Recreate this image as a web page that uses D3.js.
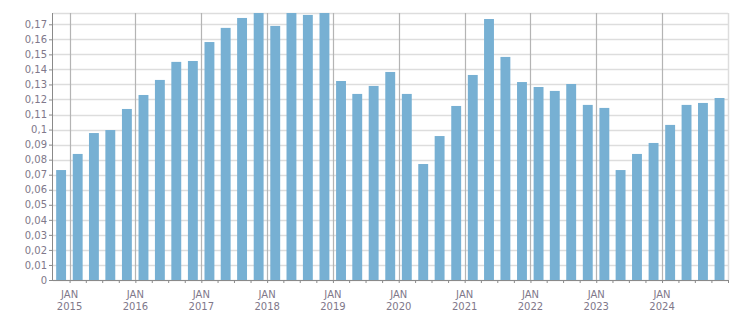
<!DOCTYPE html>
<html>
<head>
<meta charset="utf-8">
<script src="https://cdn.jsdelivr.net/npm/d3@7"></script>
<style>
  body { margin: 0; background: #fff; }
  #chart text { font-family: "DejaVu Sans", Verdana, sans-serif; font-size: 10px; fill: #80788a; }
</style>
</head>
<body>
<svg id="chart" width="751" height="313"></svg>
<script>
// quarters from Q4 2014 to Q4 2024 (start date of each quarter)
const quarters = d3.timeMonth.range(new Date(2014, 9, 1), new Date(2025, 0, 1), 3);
const values = [
    0.0731, 0.0838, 0.0977, 0.0997, 0.1137, 0.1230, 0.1330, 0.1450, 0.1456,
    0.1582, 0.1676, 0.1742, 0.1775, 0.1689, 0.1775, 0.1762, 0.1775,
    0.1323, 0.1237, 0.1290, 0.1383, 0.1237, 0.0771, 0.0957, 0.1157,
    0.1363, 0.1735, 0.1483, 0.1316, 0.1283, 0.1257, 0.1303, 0.1164,
    0.1144, 0.0731, 0.0838, 0.0911, 0.1031, 0.1164, 0.1177, 0.1210
];
const yTicks = d3.range(0, 18).map(d => d / 100);
const yearLabels = d3.range(2015, 2025);

const data = quarters.map((q, i) => ({ date: q, value: values[i] }));

const svg = d3.select("#chart");
const margin = { top: 13, right: 23, bottom: 33, left: 53 };
const width = 751 - margin.left - margin.right,
    height = 313 - margin.top - margin.bottom;

const g = svg.append("g").attr("transform", `translate(${margin.left},${margin.top})`);

let x = d3.scaleTime().domain([new Date(2014, 9, 1), new Date(2025, 0, 1)]).range([0, width]);
let y = d3.scaleLinear().domain([0, 0.1775]).range([height, 0]);

// horizontal grid
g.append("g").selectAll("line")
    .data(yTicks.concat([0.1775]))
    .join("line")
    .attr("x1", 0).attr("x2", width)
    .attr("y1", d => Math.round(y(d)) + 0.5).attr("y2", d => Math.round(y(d)) + 0.5)
    .style("stroke", "#dddddd").style("stroke-width", 1.5);

// right border
g.append("line")
    .attr("x1", width + 0.5).attr("x2", width + 0.5)
    .attr("y1", 0).attr("y2", height)
    .style("stroke", "#dddddd").style("stroke-width", 1.5);

// year grid lines
let janDates = yearLabels.map(yr => new Date(yr, 0, 1));
g.append("g").selectAll("line")
    .data(janDates)
    .join("line")
    .attr("x1", d => Math.round(x(d)) + 0.5).attr("x2", d => Math.round(x(d)) + 0.5)
    .attr("y1", 0).attr("y2", height)
    .style("stroke", "#b4b4b4").style("stroke-width", 1.2);

// bars
let step = x(new Date(2015, 3, 1)) - x(new Date(2015, 0, 1));
let barW = step * 0.61;
g.append("g").selectAll("rect")
    .data(data)
    .join("rect")
    .attr("x", d => x(d3.timeDay.offset(d.date, 45)) - barW / 2)
    .attr("width", barW)
    .attr("y", d => y(d.value))
    .attr("height", d => height - y(d.value))
    .style("fill", "#77b0d3");

// y axis
let yAxis = g.append("g")
    .call(d3.axisLeft(y).tickValues(yTicks).tickSize(4).tickPadding(2)
        .tickFormat(d => d === 0 ? "0" : String(+d.toFixed(2)).replace(".", ",")));
yAxis.select(".domain").style("stroke", "#8a8a8a").attr("d", `M-0.5,0V${height}`);
yAxis.selectAll(".tick line").style("stroke", "#8a8a8a");

// x axis: quarter ticks
let xAxis = g.append("g").attr("transform", `translate(0,${height})`)
    .call(d3.axisBottom(x).tickValues(quarters.slice(1).concat([new Date(2025, 0, 1)])).tickSize(3).tickFormat(""));
xAxis.select(".domain").style("stroke", "#8a8a8a").attr("d", `M-1,0.5H${width + 1}`);
xAxis.selectAll(".tick line").style("stroke", "#8a8a8a");

// year labels
let lbl = g.append("g").selectAll("text")
    .data(janDates)
    .join("text")
    .attr("text-anchor", "middle")
    .attr("transform", d => `translate(${x(d)},${height})`);
lbl.append("tspan").attr("x", 0).attr("y", 18).text("JAN");
lbl.append("tspan").attr("x", 0).attr("y", 30).text(d => d.getFullYear());
</script>
</body>
</html>
